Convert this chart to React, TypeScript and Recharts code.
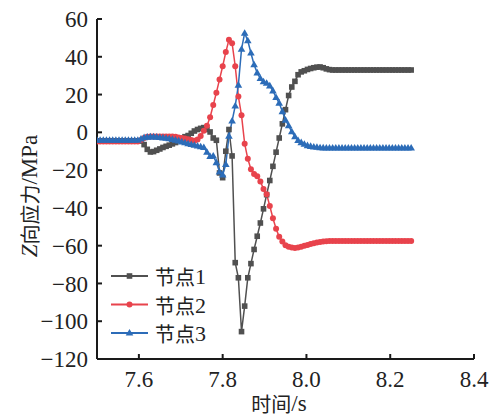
import { LineChart, Line, XAxis, YAxis, Label } from 'recharts';

const LATIN = "'Liberation Serif', Tinos, 'Times New Roman', 'DejaVu Serif', serif";
const CJK = "'Noto Sans CJK SC', sans-serif";

// 时间 (s)
const TIME = [
  7.5, 7.5075, 7.515, 7.5225, 7.53, 7.5375, 7.545, 7.5525, 7.56, 7.5675,
  7.575, 7.5825, 7.59, 7.5975, 7.605, 7.6125, 7.62, 7.6275, 7.635, 7.6425,
  7.65, 7.6575, 7.665, 7.6725, 7.68, 7.6875, 7.695, 7.7025, 7.71, 7.7175,
  7.725, 7.7325, 7.74, 7.7475, 7.755, 7.7625, 7.77, 7.7775, 7.785, 7.7925,
  7.8, 7.8075, 7.815, 7.8225, 7.83, 7.8375, 7.845, 7.8525, 7.86, 7.8675,
  7.875, 7.8825, 7.89, 7.8975, 7.905, 7.9125, 7.92, 7.9275, 7.935, 7.9425,
  7.95, 7.9575, 7.965, 7.9725, 7.98, 7.9875, 7.995, 8.0025, 8.01, 8.0175,
  8.025, 8.0325, 8.04, 8.0475, 8.055, 8.0625, 8.07, 8.0775, 8.085, 8.0925,
  8.1, 8.1075, 8.115, 8.1225, 8.13, 8.1375, 8.145, 8.1525, 8.16, 8.1675,
  8.175, 8.1825, 8.19, 8.1975, 8.205, 8.2125, 8.22, 8.2275, 8.235, 8.2425,
  8.25,
];

// 节点1 Z向应力 (MPa)
const NODE1 = [
  -4.5, -4.5, -4.5, -4.5, -4.5, -4.5, -4.5, -4.5, -4.5, -4.5,
  -4.5, -4.5, -4.5, -4.5, -4.6, -6.5, -9, -10.4, -10.2, -9.5,
  -8.8, -8, -7.4, -6.8, -6.1, -5.4, -4.4, -3.3, -2.3, -1.7,
  -0.5, 0.7, 1.5, 2.1, 2.5, 1.5, 0.2, -3, -4.2, -21.5,
  -24, -10, 1.5, -12.5, -69, -77, -105.5, -92, -77, -69.5,
  -62, -55, -48, -40.5, -33, -25.5, -18, -10.5, -3, 4.5,
  12, 19.5, 24, 27, 30.5, 32, 32.6, 33.3, 33.8, 34.2,
  34.5, 34.6, 34.2, 33.6, 33.2, 33, 33, 33, 33, 33,
  33, 33, 33, 33, 33, 33, 33, 33, 33, 33,
  33, 33, 33, 33, 33, 33, 33, 33, 33, 33,
  33,
];

// 节点2
const NODE2 = [
  -4.8, -4.8, -4.8, -4.8, -4.8, -4.8, -4.8, -4.8, -4.8, -4.8,
  -4.8, -4.8, -4.8, -4.8, -4, -3, -2.4, -2.2, -2.2, -2.2,
  -2.2, -2.2, -2.2, -2.2, -2.2, -2.4, -2.7, -3, -3.3, -3.7,
  -4.1, -4.4, -3.8, -2, 0.8, 3.5, 8, 14.5, 21, 28,
  35, 42.5, 49, 47.2, 35, 19, 9, -6, -14, -19.5,
  -22, -23.3, -26, -30, -32.8, -39, -45.5, -51, -55.3, -57.8,
  -59.8, -60.6, -61, -61.2, -61, -60.6, -60.1, -59.6, -59.1, -58.7,
  -58.3, -58, -57.8, -57.6, -57.5, -57.5, -57.5, -57.5, -57.5, -57.5,
  -57.5, -57.5, -57.5, -57.5, -57.5, -57.5, -57.5, -57.5, -57.5, -57.5,
  -57.5, -57.5, -57.5, -57.5, -57.5, -57.5, -57.5, -57.5, -57.5, -57.5,
  -57.5,
];

// 节点3
const NODE3 = [
  -4.2, -4.2, -4.2, -4.2, -4.2, -4.2, -4.2, -4.2, -4.2, -4.2,
  -4.2, -4.2, -4.2, -4.2, -3.5, -2.8, -2.5, -2.4, -2.4, -2.5,
  -2.7, -2.9, -3.1, -3.4, -3.7, -4.1, -4.5, -5, -5.5, -6,
  -6.4, -6.8, -7.2, -7.6, -8, -10.5, -12.8, -12.5, -16, -21,
  -22.5, -17, -2, 6, 14, 25, 44, 52.5, 48.5, 42,
  35.8, 31.5, 28.5, 26.8, 26, 24.6, 22, 18.5, 15.5, 11,
  6.5, 3.5, 0.3, -2.3, -4.3, -5.4, -6.3, -7, -7.4, -7.7,
  -7.9, -8.1, -8.2, -8.3, -8.3, -8.3, -8.3, -8.3, -8.3, -8.3,
  -8.3, -8.3, -8.3, -8.3, -8.3, -8.3, -8.3, -8.3, -8.3, -8.3,
  -8.3, -8.3, -8.3, -8.3, -8.3, -8.3, -8.3, -8.3, -8.3, -8.3,
  -8.3,
];

const X_TICKS = [7.6, 7.8, 8.0, 8.2, 8.4];
const Y_TICKS = [60, 40, 20, 0, -20, -40, -60, -80, -100, -120];

type Shape = 'square' | 'circle' | 'triangle';

const SERIES: { key: string; cn: string; num: string; color: string; shape: Shape }[] = [
  { key: 'n1', cn: '节点', num: '1', color: '#505050', shape: 'square' },
  { key: 'n2', cn: '节点', num: '2', color: '#e8434c', shape: 'circle' },
  { key: 'n3', cn: '节点', num: '3', color: '#2c6cb8', shape: 'triangle' },
];

const data = TIME.map((t, i) => ({ t, n1: NODE1[i], n2: NODE2[i], n3: NODE3[i] }));

const fmtY = (v: number) => (v < 0 ? `\u2212${Math.abs(v)}` : `${v}`);

function marker(shape: Shape, cx: number, cy: number, color: string, key?: string) {
  if (shape === 'square') {
    return <rect key={key} x={cx - 2.8} y={cy - 2.8} width={5.6} height={5.6} fill={color} />;
  }
  if (shape === 'circle') {
    return <circle key={key} cx={cx} cy={cy} r={3} fill={color} />;
  }
  return (
    <polygon
      key={key}
      points={`${cx},${cy - 4} ${cx - 3.8},${cy + 2.6} ${cx + 3.8},${cy + 2.6}`}
      fill={color}
    />
  );
}

// 图例：叠加在绘图区左下角
function LegendBox() {
  return (
    <svg width={150} height={110} style={{ position: 'absolute', left: 108, top: 252 }}>
      {SERIES.map((s, i) => {
        const y = 24 + i * 28.5;
        return (
          <g key={s.key}>
            <line x1={3} x2={40} y1={y} y2={y} stroke={s.color} strokeWidth={2} />
            {marker(s.shape, 21.5, y, s.color)}
            <text x={47} y={y} dominantBaseline="central" fontSize={19} fill="#222">
              <tspan fontFamily={CJK} fontSize={20}>{s.cn}</tspan>
              <tspan fontFamily={LATIN} fontSize={22}>{s.num}</tspan>
            </text>
          </g>
        );
      })}
    </svg>
  );
}

export default function App() {
  return (
    <div style={{ position: 'absolute', left: 0, top: 0, width: 496, height: 416, background: '#fff' }}>
      <LineChart width={496} height={416} data={data} margin={{ top: 19, right: 22, bottom: 0, left: 0 }}>
        <XAxis
          dataKey="t"
          type="number"
          domain={[7.5, 8.4]}
          ticks={X_TICKS}
          interval={0}
          allowDataOverflow
          tickFormatter={(v: number) => v.toFixed(1)}
          height={57}
          tickSize={-5}
          tickMargin={17}
          axisLine={{ stroke: '#1a1a1a', strokeWidth: 2 }}
          tickLine={{ stroke: '#1a1a1a', strokeWidth: 2 }}
          tick={{ fill: '#222', fontSize: 23, fontFamily: LATIN }}
        >
          <Label
            content={() => (
              <text x={279} y={403} textAnchor="middle" dominantBaseline="central" fontSize={20} fill="#222">
                <tspan fontFamily={CJK}>时间</tspan>
                <tspan fontFamily={LATIN} fontSize={23}>/s</tspan>
              </text>
            )}
          />
        </XAxis>
        <YAxis
          type="number"
          domain={[-120, 60]}
          ticks={Y_TICKS}
          interval={0}
          width={97}
          tickSize={-5}
          tickMargin={14}
          tickFormatter={fmtY}
          axisLine={{ stroke: '#1a1a1a', strokeWidth: 2 }}
          tickLine={{ stroke: '#1a1a1a', strokeWidth: 2 }}
          tick={{ fill: '#222', fontSize: 23, fontFamily: LATIN }}
        >
          <Label
            content={() => (
              <text
                x={29}
                y={196}
                transform="rotate(-90 29 196)"
                textAnchor="middle"
                dominantBaseline="central"
                fontSize={20}
                fill="#222"
              >
                <tspan fontFamily={LATIN} fontStyle="italic" fontSize={23}>Z</tspan>
                <tspan fontFamily={CJK}>向应力</tspan>
                <tspan fontFamily={LATIN} fontSize={23}>/MPa</tspan>
              </text>
            )}
          />
        </YAxis>
        {SERIES.map((s) => (
          <Line
            key={s.key}
            type="linear"
            dataKey={s.key}
            name={s.cn + s.num}
            stroke={s.color}
            strokeWidth={1.5}
            isAnimationActive={false}
            activeDot={false}
            dot={(p: any) => marker(s.shape, p.cx, p.cy, s.color, `${s.key}-${p.index}`)}
          />
        ))}
      </LineChart>
      <LegendBox />
    </div>
  );
}
